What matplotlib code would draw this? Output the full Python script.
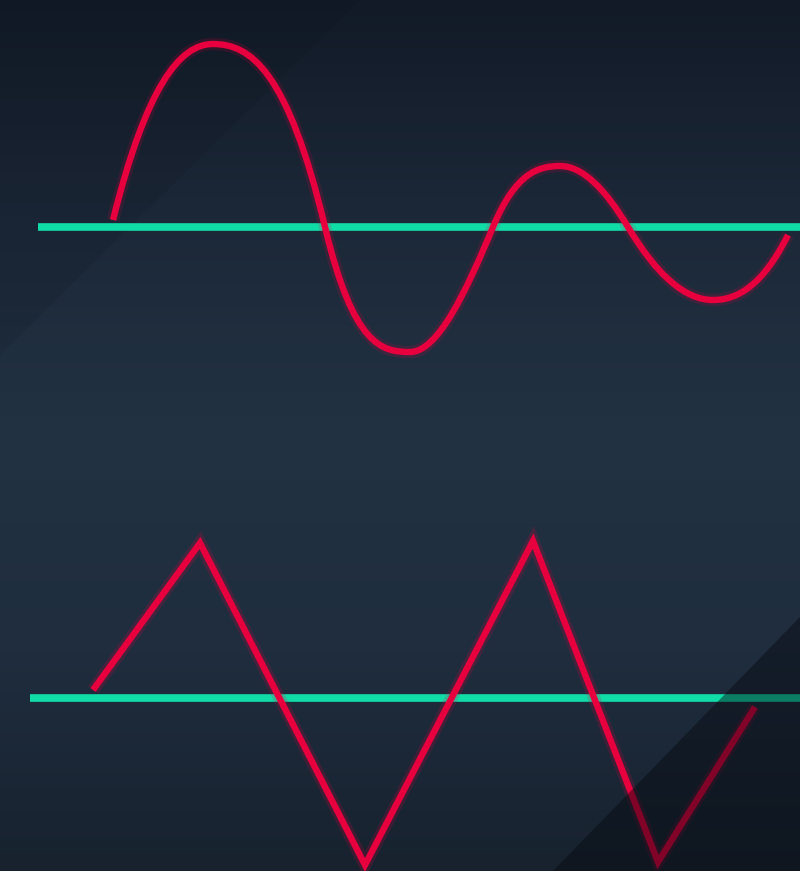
import numpy as np
import matplotlib
matplotlib.use("Agg")
import matplotlib.pyplot as plt
from matplotlib.patches import Polygon, PathPatch
from matplotlib.path import Path
from matplotlib.colors import LinearSegmentedColormap

# Picture space is pixels: x to the right, y downwards
W, H = 800, 871

# Damped wave: start, extremes, zero crossings and end
wave_x = [113, 213, 325, 410, 493, 560, 628, 713, 788]
wave_y = [220, 44, 227, 352, 227, 166, 227, 300, 235]
# slope dy/dx of the curve at each of those points
wave_slope = [-4.0, 0, 4.2, 0, -2.4, 0, 1.67, 0, -2.0]

# Triangle wave
tri_x = [93, 200, 365, 533, 658, 755]
tri_y = [690, 543, 865, 541, 862, 707]

# Baselines: (y, x start)
base_y = [227, 698]
base_x0 = [38, 30]

red = "#e8003e"
teal = "#10dca8"


def hermite_path(xs, ys, ms):
    # each span becomes one cubic bezier with the given end slopes
    verts = [(xs[0], ys[0])]
    codes = [Path.MOVETO]
    for i in range(len(xs) - 1):
        h = (xs[i + 1] - xs[i]) / 3
        verts += [(xs[i] + h, ys[i] + h * ms[i]),
                  (xs[i + 1] - h, ys[i + 1] - h * ms[i + 1]),
                  (xs[i + 1], ys[i + 1])]
        codes += [Path.CURVE4] * 3
    return Path(verts, codes)


fig = plt.figure(figsize=(W / 100, H / 100), dpi=100)
ax = fig.add_axes([0, 0, 1, 1])
ax.set_xlim(0, W)
ax.set_ylim(H, 0)
ax.axis("off")

# background: vertical gradient
bg = LinearSegmentedColormap.from_list("bg", ["#121a27", "#1c2838", "#223243", "#1f2d3e", "#18222f"])
grad = np.linspace(0, 1, 256).reshape(-1, 1)
ax.imshow(grad, cmap=bg, extent=[0, W, H, 0], aspect="auto", zorder=0)

# diagonal shading wedges
ax.add_patch(Polygon([(0, 0), (360, 0), (0, 355)], closed=True,
                     facecolor="#0a1019", alpha=0.12, edgecolor="none", zorder=1))
ax.add_patch(Polygon([(W, 617), (W, H), (553, H)], closed=True,
                     facecolor="#05090f", alpha=0.45, edgecolor="none", zorder=4))

for y, x0 in zip(base_y, base_x0):
    ax.plot([x0, W], [y, y], color=teal, lw=5.5, solid_capstyle="butt", zorder=2)

# smooth wave: faint glow then the line
wave = hermite_path(wave_x, wave_y, wave_slope)
ax.add_patch(PathPatch(wave, facecolor="none", edgecolor=red, lw=9, alpha=0.15,
                       capstyle="butt", zorder=3))
ax.add_patch(PathPatch(wave, facecolor="none", edgecolor=red, lw=4.6,
                       capstyle="butt", joinstyle="round", zorder=3))

# triangle wave
ax.plot(tri_x, tri_y, color=red, lw=9, alpha=0.18, solid_joinstyle="miter",
        solid_capstyle="butt", zorder=3)
ax.plot(tri_x, tri_y, color=red, lw=4.6, solid_joinstyle="miter",
        solid_capstyle="butt", zorder=3)

fig.savefig("out.png", dpi=100)
